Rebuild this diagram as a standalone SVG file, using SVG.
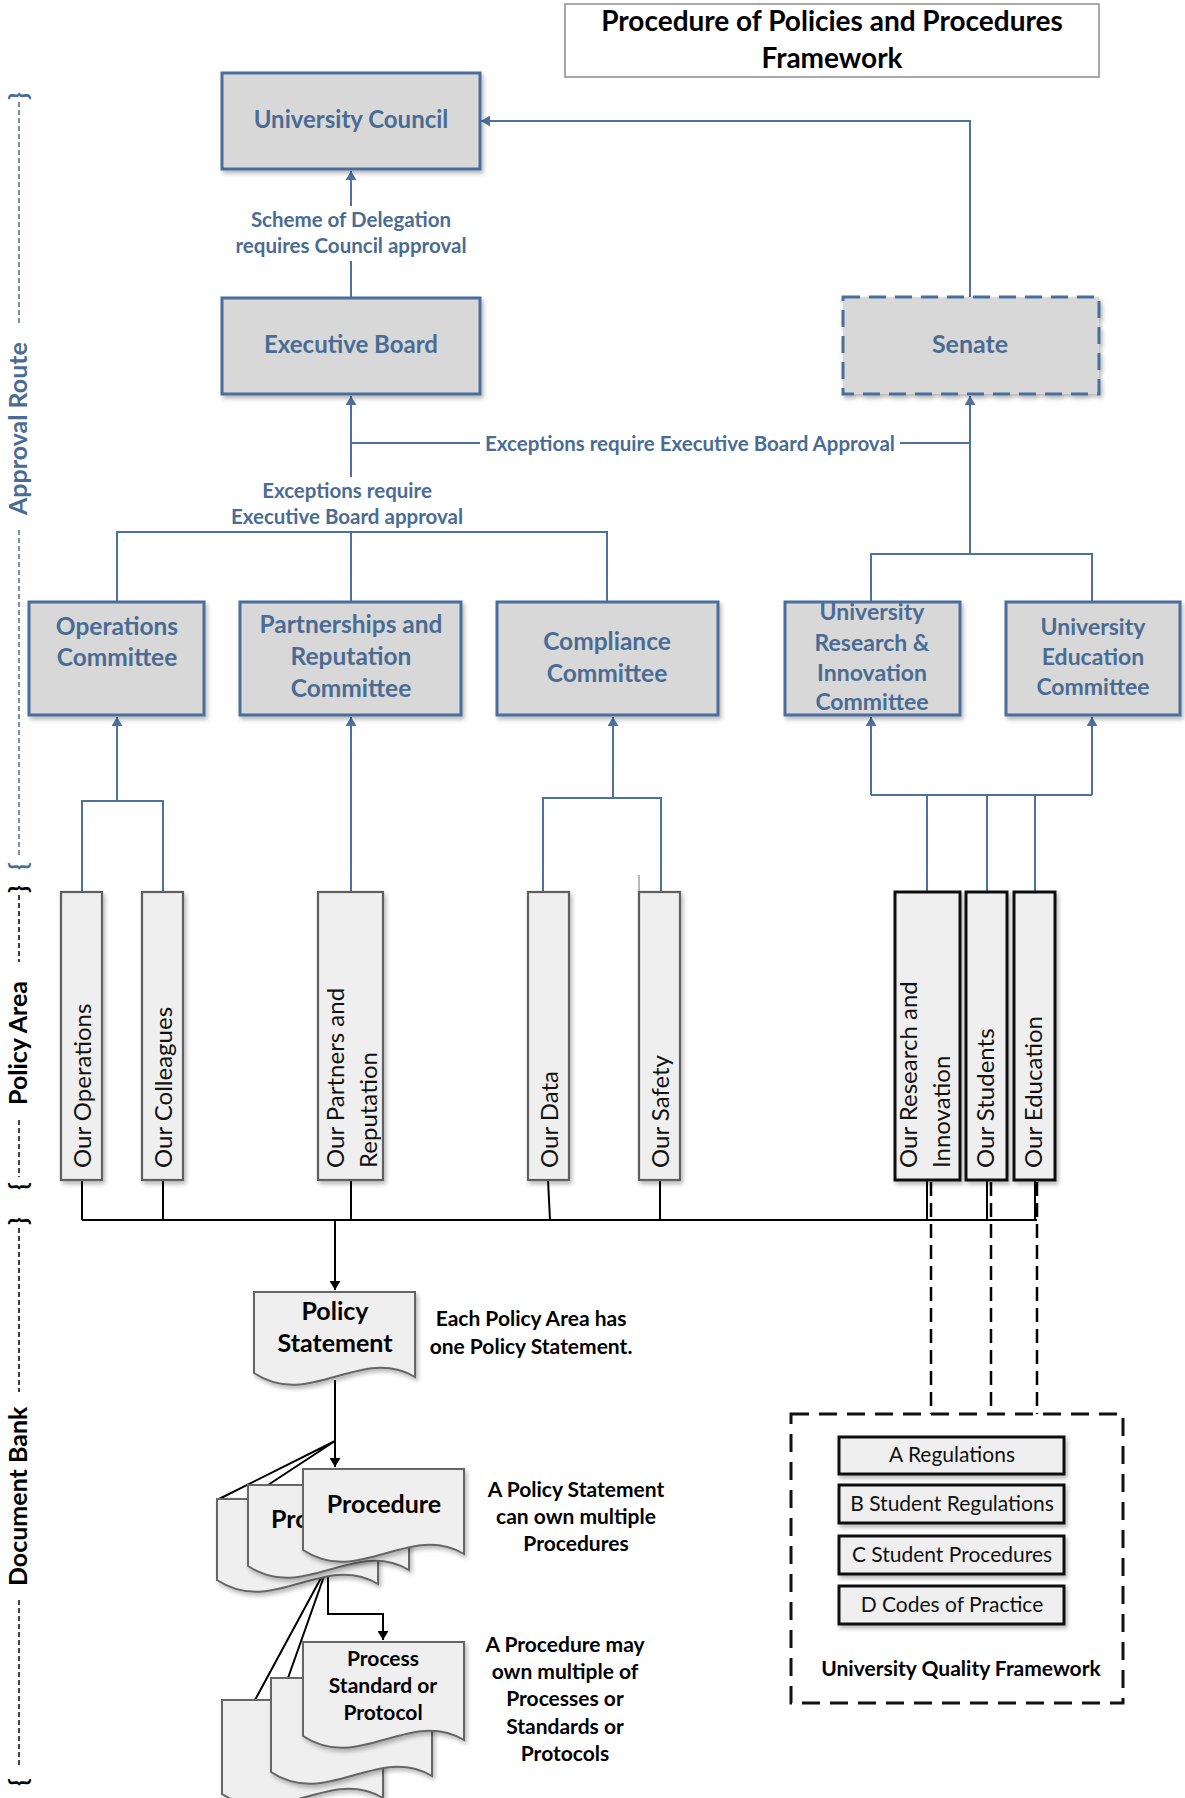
<svg xmlns="http://www.w3.org/2000/svg" xmlns:xlink="http://www.w3.org/1999/xlink" width="1185" height="1798" viewBox="0 0 1185 1798">
<defs>
<style>
text{font-family:Lato,"Liberation Sans",sans-serif}
.box{fill:#d8d8d8;stroke:#4a6e9c;stroke-width:3}
.sen{fill:#d8d8d8;stroke:#4a6e9c;stroke-width:3;stroke-dasharray:17 9}
.bt{fill:#4a6c94;font-weight:700;font-size:24px;text-anchor:middle}
.ct{fill:#4a6c94;font-weight:700;font-size:24.5px;text-anchor:middle}
.ct2{fill:#4a6c94;font-weight:700;font-size:23px;text-anchor:middle}
.lb{fill:#4a6c94;font-weight:700;font-size:20.5px;text-anchor:middle}
.bar{fill:#efefef;stroke:#5f5f5f;stroke-width:2.2}
.barb{fill:#efefef;stroke:#111;stroke-width:3}
.vt{fill:#111;font-size:24px}
.doc{fill:#efefef;stroke:#666;stroke-width:2}
.dt{fill:#000;font-weight:700;font-size:25px;text-anchor:middle}
.pt{fill:#000;font-weight:700;font-size:21px;text-anchor:middle}
.an{fill:#000;font-weight:700;font-size:21px;text-anchor:middle}
.qb{fill:#efefef;stroke:#111;stroke-width:3}
.qt{fill:#111;font-size:21px;text-anchor:middle}
.side{font-weight:700;font-size:25px}
.bl{fill:none;stroke:#4d72a0;stroke-width:2}
.bk{fill:none;stroke:#000;stroke-width:2}
.bkd{fill:none;stroke:#000;stroke-width:2.5;stroke-dasharray:14 7}
.sd{fill:none;stroke-width:1.5;stroke-dasharray:5 3}
</style>
<filter id="sh" x="-10%" y="-10%" width="130%" height="130%">
<feDropShadow dx="2" dy="3" stdDeviation="2" flood-color="#000" flood-opacity="0.28"/>
</filter>
<marker id="ab" viewBox="0 0 9 11" refX="9" refY="5.5" markerWidth="9" markerHeight="11" markerUnits="userSpaceOnUse" orient="auto">
<path d="M0,0 L9,5.5 L0,11 z" fill="#4d72a0"/>
</marker>
<marker id="ak" viewBox="0 0 9 11" refX="9" refY="5.5" markerWidth="9" markerHeight="11" markerUnits="userSpaceOnUse" orient="auto">
<path d="M0,0 L9,5.5 L0,11 z" fill="#000"/>
</marker>
<path id="docA" d="M0,0 H161 V85 C106,53 56,118 0,81 Z"/>
<path id="docB" d="M0,0 H161 V98 C106,66 56,131 0,94 Z"/>
</defs>

<rect width="1185" height="1798" fill="#fff"/>

<!-- Title -->
<g id="title">
<rect x="565" y="4" width="534" height="73" fill="#fff" stroke="#8c8c8c" stroke-width="1.5"/>
<text x="832" y="31" style="font-weight:700;font-size:28px;text-anchor:middle" fill="#000">Procedure of Policies and Procedures</text>
<text x="832" y="68" style="font-weight:700;font-size:28px;text-anchor:middle" fill="#000">Framework</text>
</g>

<!-- Side labels -->
<g id="side-approval" fill="#4a6c94" stroke="#4a6c94">
<text class="side" stroke="none" transform="translate(27,100) rotate(-90)">}</text>
<line class="sd" x1="19" y1="102" x2="19" y2="325"/>
<text class="side" stroke="none" transform="translate(27,515) rotate(-90)">Approval Route</text>
<line class="sd" x1="19" y1="530" x2="19" y2="855"/>
<text class="side" stroke="none" transform="translate(27,870) rotate(-90)">{</text>
</g>
<g id="side-policy" fill="#000" stroke="#000">
<text class="side" stroke="none" transform="translate(27,893) rotate(-90)">}</text>
<line class="sd" x1="19" y1="895" x2="19" y2="962"/>
<text class="side" stroke="none" transform="translate(27,1105) rotate(-90)">Policy Area</text>
<line class="sd" x1="19" y1="1120" x2="19" y2="1177"/>
<text class="side" stroke="none" transform="translate(27,1190) rotate(-90)">{</text>
</g>
<g id="side-docbank" fill="#000" stroke="#000">
<text class="side" stroke="none" transform="translate(27,1225) rotate(-90)">}</text>
<line class="sd" x1="19" y1="1228" x2="19" y2="1392"/>
<text class="side" stroke="none" transform="translate(27,1586) rotate(-90)">Document Bank</text>
<line class="sd" x1="19" y1="1600" x2="19" y2="1766"/>
<text class="side" stroke="none" transform="translate(27,1786) rotate(-90)">{</text>
</g>

<!-- Connectors -->
<g id="connectors">
<path class="bl" d="M351,298 V261"/>
<path class="bl" d="M351,206 V171" marker-end="url(#ab)"/>
<path class="bl" d="M970,297 V121 H481" marker-end="url(#ab)"/>
<path class="bl" d="M351,477 V396" marker-end="url(#ab)"/>
<path class="bl" d="M351,443 H480 M900,443 H970"/>
<path class="bl" d="M970,554 V396" marker-end="url(#ab)"/>
<path class="bl" d="M117,602 V532 H607 V602 M351,532 V602"/>
<path class="bl" d="M871,602 V554 H1092 V602"/>
<path class="bl" d="M117,801 V717" marker-end="url(#ab)"/>
<path class="bl" d="M82,892 V801 H163 V892"/>
<path class="bl" d="M351,892 V717" marker-end="url(#ab)"/>
<path class="bl" d="M613,798 V717" marker-end="url(#ab)"/>
<path class="bl" d="M543,892 V798 H661 V892"/>
<path class="bl" d="M871,795 V717" marker-end="url(#ab)"/>
<path class="bl" d="M1092,795 V717" marker-end="url(#ab)"/>
<path class="bl" d="M871,795 H1092 M927,892 V795 M987,892 V795 M1035,892 V795"/>
<path d="M639,875 V891" fill="none" stroke="#888" stroke-width="1.2"/>
<path class="bk" d="M82,1180 V1220 M163,1180 V1220 M351,1180 V1220 M548,1180 L550,1220 M660,1180 V1220 M927,1180 V1220 M987,1180 V1220 M1035,1180 V1220"/>
<path class="bk" d="M82,1220 H1037"/>
<path class="bkd" d="M931,1182 V1414 M991,1182 V1414 M1037,1182 V1414"/>
<path class="bk" d="M335,1220 V1290" marker-end="url(#ak)"/>
<path class="bk" d="M335,1380 V1467" marker-end="url(#ak)"/>
<path class="bk" d="M335,1441 L219,1499 M335,1441 L268,1485"/>
<path class="bk" d="M328,1560 V1614 H383 V1640" marker-end="url(#ak)"/>
<path class="bk" d="M328,1565 L255,1700 M328,1565 L288,1678"/>
</g>

<!-- Connector labels -->
<g id="connector-labels">
<text class="lb" x="351" y="227">Scheme of Delegation</text>
<text class="lb" x="351" y="253">requires Council approval</text>
<text class="lb" x="690" y="451">Exceptions require Executive Board Approval</text>
<text class="lb" x="347" y="498">Exceptions require</text>
<text class="lb" x="347" y="524">Executive Board approval</text>
</g>

<!-- Top nodes -->
<g id="university-council">
<rect class="box" x="222" y="73" width="258" height="96" filter="url(#sh)"/>
<text class="bt" x="351" y="128">University Council</text>
</g>
<g id="executive-board">
<rect class="box" x="222" y="298" width="258" height="96" filter="url(#sh)"/>
<text class="bt" x="351" y="353">Executive Board</text>
</g>
<g id="senate">
<rect class="sen" x="843" y="297" width="256" height="97" filter="url(#sh)"/>
<text class="bt" x="970" y="353" style="font-size:25px">Senate</text>
</g>

<!-- Committees -->
<g id="operations-committee">
<rect class="box" x="29" y="602" width="175" height="113" filter="url(#sh)"/>
<text class="ct" x="117" y="635">Operations</text>
<text class="ct" x="117" y="666">Committee</text>
</g>
<g id="partnerships-committee">
<rect class="box" x="240" y="602" width="221" height="113" filter="url(#sh)"/>
<text class="ct" x="351" y="633">Partnerships and</text>
<text class="ct" x="351" y="665">Reputation</text>
<text class="ct" x="351" y="697">Committee</text>
</g>
<g id="compliance-committee">
<rect class="box" x="497" y="602" width="221" height="113" filter="url(#sh)"/>
<text class="ct" x="607" y="650">Compliance</text>
<text class="ct" x="607" y="682">Committee</text>
</g>
<g id="research-committee">
<rect class="box" x="785" y="602" width="175" height="113" filter="url(#sh)"/>
<text class="ct2" x="872" y="620">University</text>
<text class="ct2" x="872" y="651">Research &amp;</text>
<text class="ct2" x="872" y="681">Innovation</text>
<text class="ct2" x="872" y="710">Committee</text>
</g>
<g id="education-committee">
<rect class="box" x="1006" y="602" width="174" height="113" filter="url(#sh)"/>
<text class="ct2" x="1093" y="635">University</text>
<text class="ct2" x="1093" y="665">Education</text>
<text class="ct2" x="1093" y="695">Committee</text>
</g>

<!-- Policy area bars -->
<g id="our-operations">
<rect class="bar" x="61" y="892" width="41" height="288" filter="url(#sh)"/>
<text class="vt" transform="translate(91,1168) rotate(-90)">Our Operations</text>
</g>
<g id="our-colleagues">
<rect class="bar" x="142" y="892" width="41" height="288" filter="url(#sh)"/>
<text class="vt" transform="translate(172,1168) rotate(-90)">Our Colleagues</text>
</g>
<g id="our-partners">
<rect class="bar" x="318" y="892" width="65" height="288" filter="url(#sh)"/>
<text class="vt" transform="translate(344,1168) rotate(-90)">Our Partners and</text>
<text class="vt" transform="translate(377,1168) rotate(-90)">Reputation</text>
</g>
<g id="our-data">
<rect class="bar" x="528" y="892" width="41" height="288" filter="url(#sh)"/>
<text class="vt" transform="translate(558,1168) rotate(-90)">Our Data</text>
</g>
<g id="our-safety">
<rect class="bar" x="639" y="892" width="41" height="288" filter="url(#sh)"/>
<text class="vt" transform="translate(669,1168) rotate(-90)">Our Safety</text>
</g>
<g id="our-research">
<rect class="barb" x="895" y="892" width="65" height="288" filter="url(#sh)"/>
<text class="vt" transform="translate(917,1168) rotate(-90)">Our Research and</text>
<text class="vt" transform="translate(950,1168) rotate(-90)">Innovation</text>
</g>
<g id="our-students">
<rect class="barb" x="966" y="892" width="41" height="288" filter="url(#sh)"/>
<text class="vt" transform="translate(994,1168) rotate(-90)">Our Students</text>
</g>
<g id="our-education">
<rect class="barb" x="1014" y="892" width="41" height="288" filter="url(#sh)"/>
<text class="vt" transform="translate(1042,1168) rotate(-90)">Our Education</text>
</g>

<!-- Documents -->
<g id="policy-statement">
<use href="#docA" xlink:href="#docA" class="doc" x="254" y="1292" filter="url(#sh)"/>
<text class="dt" x="335" y="1320">Policy</text>
<text class="dt" x="335" y="1352">Statement</text>
</g>
<g id="policy-statement-note">
<text class="an" x="531" y="1326">Each Policy Area has</text>
<text class="an" x="531" y="1354">one Policy Statement.</text>
</g>
<g id="procedures">
<use href="#docA" xlink:href="#docA" class="doc" x="217" y="1499" filter="url(#sh)"/>
<use href="#docA" xlink:href="#docA" class="doc" x="248" y="1485" filter="url(#sh)"/>
<text class="dt" x="271" y="1528" style="text-anchor:start">Pro</text>
<use href="#docA" xlink:href="#docA" class="doc" x="303" y="1469" filter="url(#sh)"/>
<text class="dt" x="384" y="1513">Procedure</text>
</g>
<g id="procedures-note">
<text class="an" x="576" y="1497">A Policy Statement</text>
<text class="an" x="576" y="1524">can own multiple</text>
<text class="an" x="576" y="1551">Procedures</text>
</g>
<g id="processes">
<use href="#docB" xlink:href="#docB" class="doc" x="222" y="1700" filter="url(#sh)"/>
<use href="#docB" xlink:href="#docB" class="doc" x="271" y="1678" filter="url(#sh)"/>
<use href="#docB" xlink:href="#docB" class="doc" x="303" y="1642" filter="url(#sh)"/>
<text class="pt" x="383" y="1666">Process</text>
<text class="pt" x="383" y="1693">Standard or</text>
<text class="pt" x="383" y="1720">Protocol</text>
</g>
<g id="processes-note">
<text class="an" x="565" y="1652">A Procedure may</text>
<text class="an" x="565" y="1679">own multiple of</text>
<text class="an" x="565" y="1706">Processes or</text>
<text class="an" x="565" y="1734">Standards or</text>
<text class="an" x="565" y="1761">Protocols</text>
</g>

<!-- University Quality Framework -->
<g id="uqf">
<rect x="791" y="1414" width="332" height="289" fill="none" stroke="#111" stroke-width="3" stroke-dasharray="18 10"/>
<rect class="qb" x="839" y="1437" width="225" height="37" filter="url(#sh)"/>
<text class="qt" x="952" y="1462">A Regulations</text>
<rect class="qb" x="839" y="1485" width="225" height="38" filter="url(#sh)"/>
<text class="qt" x="952" y="1511">B Student Regulations</text>
<rect class="qb" x="839" y="1536" width="225" height="38" filter="url(#sh)"/>
<text class="qt" x="952" y="1562">C Student Procedures</text>
<rect class="qb" x="839" y="1586" width="225" height="38" filter="url(#sh)"/>
<text class="qt" x="952" y="1612">D Codes of Practice</text>
<text class="an" x="961" y="1676">University Quality Framework</text>
</g>
</svg>
